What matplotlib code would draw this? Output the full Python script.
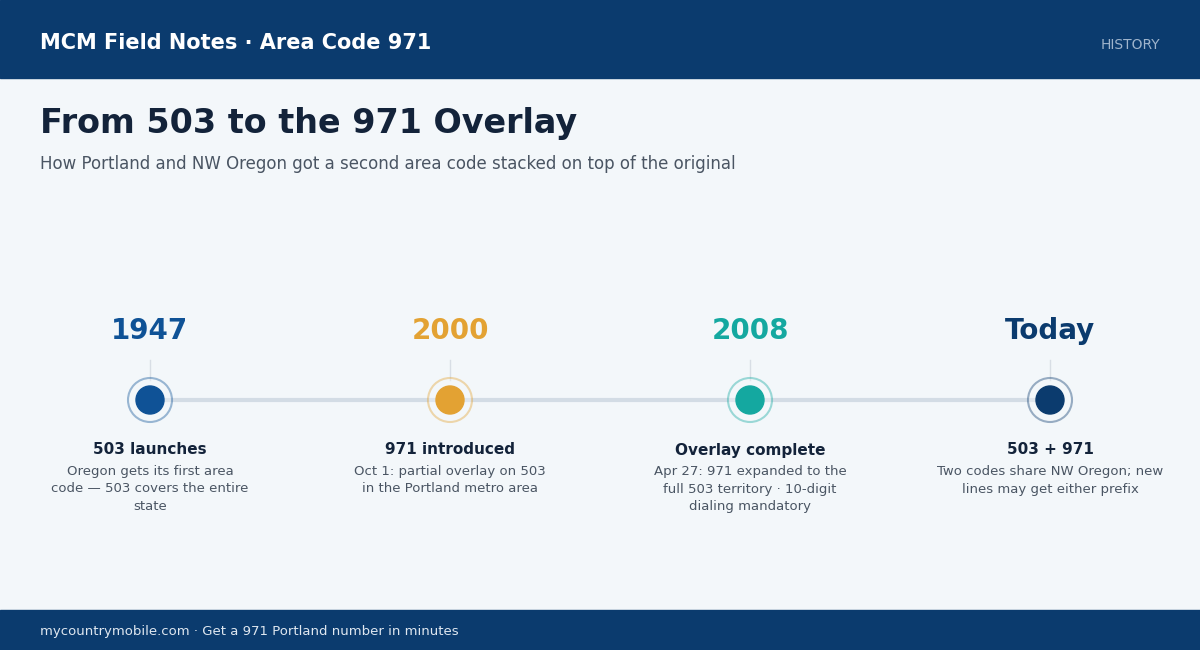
import matplotlib.pyplot as plt
from matplotlib.patches import Rectangle, Circle

labels = ["1947", "2000", "2008", "Today"]
titles = ["503 launches", "971 introduced", "Overlay complete", "503 + 971"]
descs = [
    "Oregon gets its first area\ncode — 503 covers the entire\nstate",
    "Oct 1: partial overlay on 503\nin the Portland metro area",
    "Apr 27: 971 expanded to the\nfull 503 territory · 10-digit\ndialing mandatory",
    "Two codes share NW Oregon; new\nlines may get either prefix",
]
colors = ["#0f5296", "#e3a233", "#14a8a0", "#0b3b6e"]

NAVY = "#0b3b6e"
fig = plt.figure(figsize=(12, 6.5), dpi=100)
fig.patch.set_facecolor("#f3f7fa")
ax = fig.add_axes([0, 0, 1, 1])
ax.set_xlim(0, 1200)
ax.set_ylim(650, 0)
ax.axis("off")

# header / footer bands
ax.add_patch(Rectangle((0, 0), 1200, 78, color=NAVY))
ax.add_patch(Rectangle((0, 610), 1200, 40, color=NAVY))
ax.text(40, 43, "MCM Field Notes · Area Code 971", color="white", fontsize=15,
        fontweight="bold", va="center")
ax.text(1160, 45, "HISTORY", color="#9fb4cc", fontsize=10, va="center", ha="right")
ax.text(40, 631, "mycountrymobile.com · Get a 971 Portland number in minutes",
        color="#dfe7f0", fontsize=9.5, va="center")

ax.text(40, 124, "From 503 to the 971 Overlay", color="#13233a", fontsize=24,
        fontweight="bold", va="center")
ax.text(40, 164, "How Portland and NW Oregon got a second area code stacked on top of the original",
        color="#4a5563", fontsize=12, va="center")

xs = [150 + 300 * i for i in range(len(labels))]
ax.plot([xs[0], xs[-1]], [400, 400], color="#d3dce5", lw=3, zorder=1)

for x, lab, t, d, c in zip(xs, labels, titles, descs, colors):
    ax.text(x, 331, lab, color=c, fontsize=20, fontweight="bold", ha="center", va="center")
    ax.plot([x, x], [360, 380], color="#d8dee5", lw=1, zorder=1)
    ax.add_patch(Circle((x, 400), 22, facecolor="#f3f7fa", edgecolor=c, lw=1.5,
                        alpha=0.4, zorder=2))
    ax.add_patch(Circle((x, 400), 14, color=c, zorder=3))
    ax.text(x, 450, t, color="#13233a", fontsize=11, fontweight="bold", ha="center", va="center")
    ax.text(x, 465, d, color="#4a5563", fontsize=9.5, ha="center", va="top", linespacing=1.45)

fig.savefig("out.png", dpi=100, facecolor=fig.get_facecolor())
